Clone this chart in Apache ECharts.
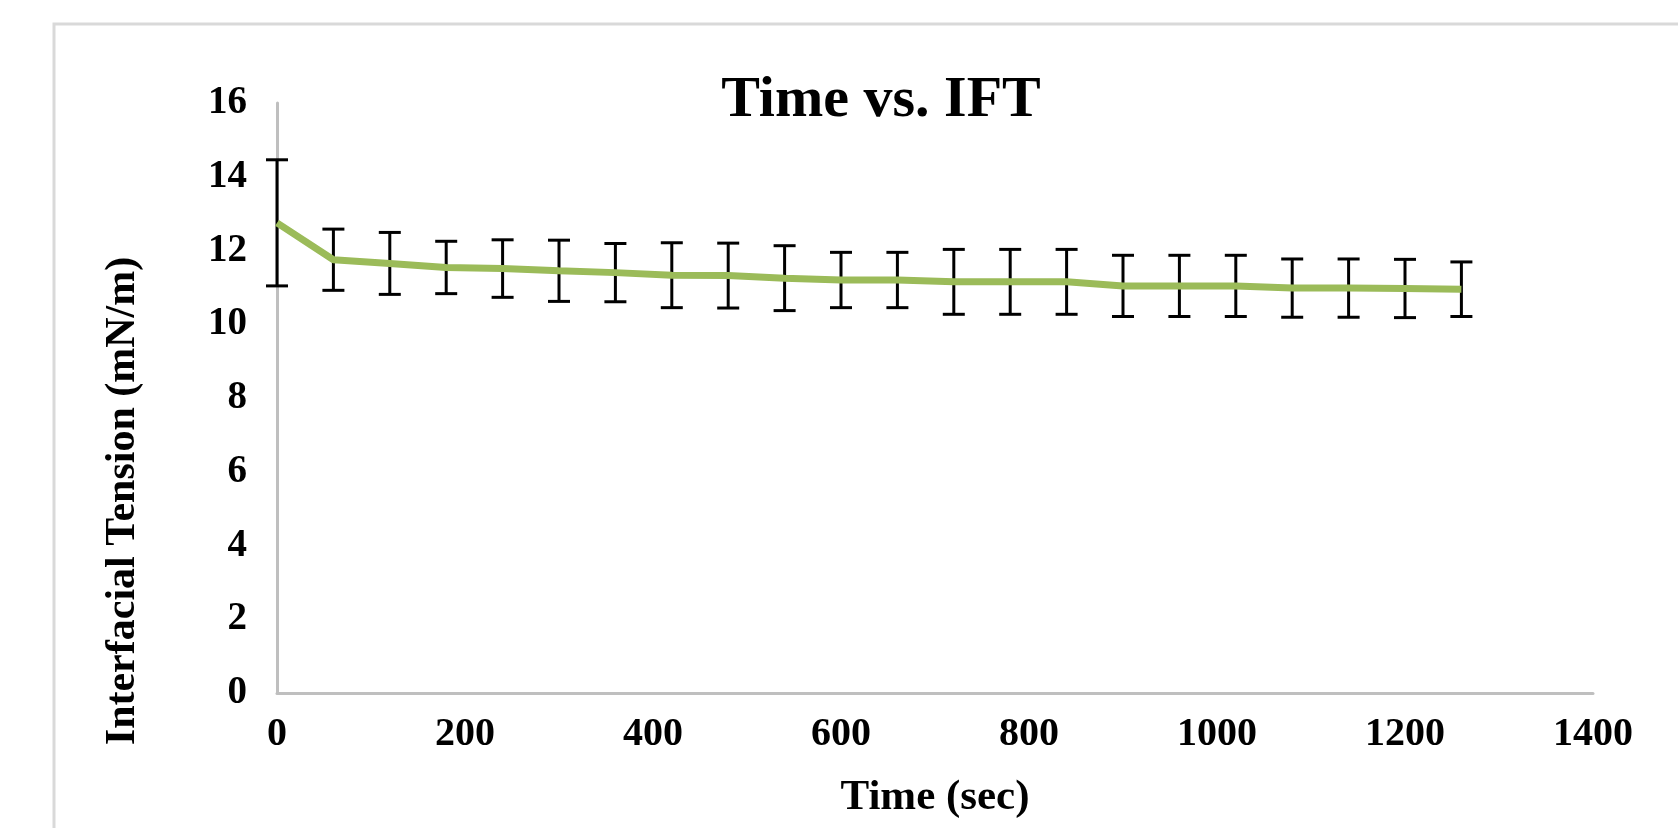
<!DOCTYPE html>
<html>
<head>
<meta charset="utf-8">
<title>Time vs. IFT</title>
<script src="https://cdn.jsdelivr.net/npm/echarts@6/dist/echarts.min.js"></script>
<style>
  html, body { margin: 0; padding: 0; background: #fff; }
  #chart { width: 1678px; height: 828px; }
</style>
</head>
<body>
<div id="chart"></div>
<script>
// time (sec)
const times = [0, 60, 120, 180, 240, 300, 360, 420, 480, 540, 600, 660,
  720, 780, 840, 900, 960, 1020, 1080, 1140, 1200, 1260];
// interfacial tension (mN/m)
const ift = [12.75, 11.75, 11.65, 11.54, 11.51, 11.45, 11.4, 11.33, 11.32, 11.25, 11.2, 11.2,
  11.15, 11.15, 11.15, 11.04, 11.04, 11.04, 10.98, 10.98, 10.97, 10.95];
// +/- error
const iftErr = [1.71, 0.83, 0.84, 0.71, 0.78, 0.83, 0.79, 0.88, 0.88, 0.88, 0.75, 0.75,
  0.88, 0.88, 0.88, 0.83, 0.83, 0.83, 0.79, 0.79, 0.79, 0.74];

const yTicks = [0, 2, 4, 6, 8, 10, 12, 14, 16];
const xTicks = [0, 200, 400, 600, 800, 1000, 1200, 1400];

const serif = '"Liberation Serif", "Times New Roman", serif';

const lineData = times.map((t, i) => [t, ift[i]]);
const errData = times.map((t, i) => [t, ift[i], iftErr[i]]);

const chart = echarts.init(document.getElementById("chart"));

function renderErrorBar(params, api) {
  const x = api.value(0);
  const y = api.value(1);
  const e = api.value(2);
  const top = api.coord([x, y + e]);
  const bottom = api.coord([x, y - e]);
  const cap = 11;
  const style = { stroke: "#000", lineWidth: 3 };
  return {
    type: "group",
    children: [
      { type: "line", shape: { x1: top[0], y1: top[1], x2: bottom[0], y2: bottom[1] }, style: style },
      { type: "line", shape: { x1: top[0] - cap, y1: top[1], x2: top[0] + cap, y2: top[1] }, style: style },
      { type: "line", shape: { x1: bottom[0] - cap, y1: bottom[1], x2: bottom[0] + cap, y2: bottom[1] }, style: style },
    ],
  };
}

const option = {
  animation: false,
  backgroundColor: "#fff",
  title: {
    text: "Time vs. IFT",
    left: 876,
    top: 67,
    textAlign: "center",
    textStyle: {
      fontFamily: serif,
      fontWeight: "bold",
      fontSize: 58,
      color: "#000",
    },
  },
  grid: {
    left: 277,
    right: 85,
    top: 103,
    bottom: 135,
    containLabel: false,
    outerBoundsMode: "none",
  },
  xAxis: {
    type: "value",
    min: xTicks[0],
    max: xTicks[xTicks.length - 1],
    interval: 200,
    name: "Time (sec)",
    nameLocation: "middle",
    nameGap: 83,
    nameTextStyle: {
      fontFamily: serif,
      fontWeight: "bold",
      fontSize: 43,
      color: "#000",
    },
    axisLine: { show: true, lineStyle: { color: "#bfbfbf", width: 3 } },
    axisTick: { show: false },
    splitLine: { show: false },
    axisLabel: {
      margin: 22,
      formatter: (v) => String(v),
      fontFamily: serif,
      fontWeight: "bold",
      fontSize: 40,
      color: "#000",
    },
  },
  yAxis: {
    type: "value",
    min: yTicks[0],
    max: yTicks[yTicks.length - 1],
    interval: 2,
    axisLine: { show: true, lineStyle: { color: "#bfbfbf", width: 3 } },
    axisTick: { show: false },
    splitLine: { show: false },
    axisLabel: {
      margin: 30,
      formatter: (v) => String(v),
      fontFamily: serif,
      fontWeight: "bold",
      fontSize: 39,
      color: "#000",
    },
  },
  graphic: [
    {
      type: "rect",
      shape: { x: 54, y: 24, width: 1700, height: 900 },
      style: { fill: null, stroke: "#d9d9d9", lineWidth: 3 },
      silent: true,
      z: -10,
    },
    {
      type: "text",
      x: 123,
      y: 501,
      rotation: Math.PI / 2,
      style: {
        text: "Interfacial Tension (mN/m)",
        align: "center",
        verticalAlign: "middle",
        font: "bold 42px " + serif,
        fill: "#000",
      },
    },
  ],
  series: [
    {
      type: "custom",
      name: "error",
      data: errData,
      renderItem: renderErrorBar,
      z: 2,
    },
    {
      type: "line",
      name: "IFT",
      data: lineData,
      showSymbol: false,
      lineStyle: { color: "#9bbb59", width: 7 },
      itemStyle: { color: "#9bbb59" },
      z: 3,
    },
  ],
};

chart.setOption(option);
window.addEventListener("resize", () => chart.resize());
</script>
</body>
</html>
